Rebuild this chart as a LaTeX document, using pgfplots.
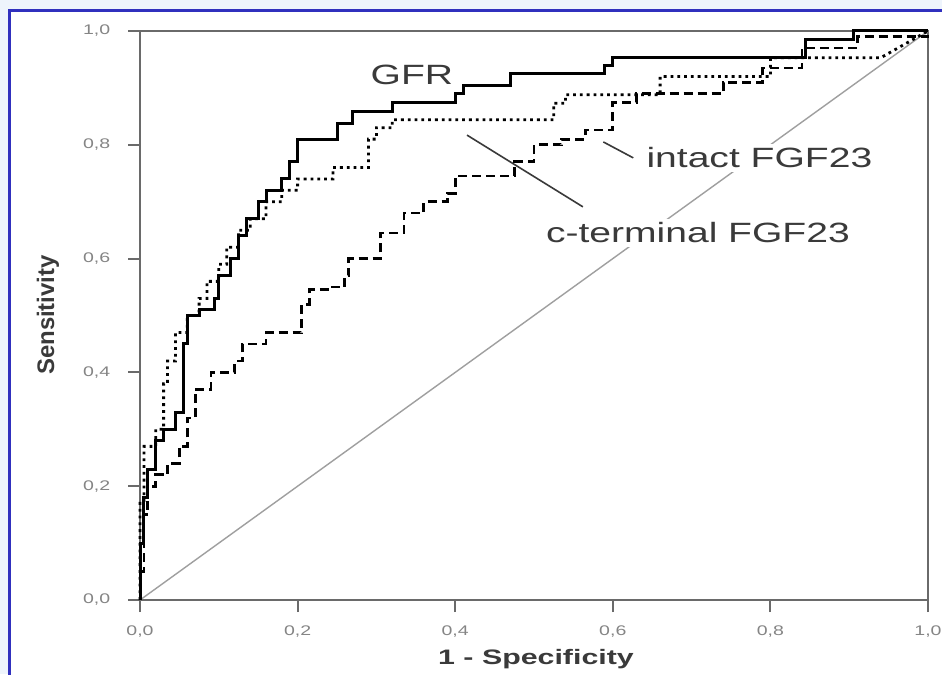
\documentclass[border=0pt]{standalone}
\usepackage{fontspec}
\setmainfont{Liberation Sans}
\usepackage{graphicx}
\usepackage{pgfplots}
\pgfplotsset{compat=1.18}
\definecolor{bgblue}{HTML}{EEF4FC}
\definecolor{frameblue}{HTML}{3030BE}
\definecolor{axgray}{HTML}{6A6A6A}
\definecolor{tickgray}{HTML}{858585}
\definecolor{txtgray}{HTML}{3A3A3A}
\begin{document}
\begin{tikzpicture}[x=1bp,y=1bp]
\useasboundingbox (0,0) rectangle (471,337);
\fill[bgblue] (0,0) rectangle (471,337);
\fill[white] (4.5,-5) rectangle (480,331.5);
\draw[frameblue, line width=1.5bp] (4.5,-5) -- (4.5,331.5) -- (480,331.5);
\begin{axis}[
  at={(70bp,37bp)}, anchor=south west, scale only axis,
  width=394bp, height=284.5bp,
  xmin=0, xmax=1, ymin=0, ymax=1,
  xtick={0,0.2,0.4,0.6,0.8,1}, ytick={0,0.2,0.4,0.6,0.8,1},
  xtick pos=bottom, ytick pos=left, tick align=outside,
  major tick length=6bp,
  axis line style={axgray, line width=1.2bp},
  every tick/.style={axgray, line width=1bp},
  /pgf/number format/use comma, /pgf/number format/fixed,
  /pgf/number format/fixed zerofill, /pgf/number format/precision=1,
  /pgf/number format/assume math mode=true,
  tick label style={font=\fontsize{7}{8}\selectfont, text=tickgray},
  xticklabel style={yshift=-3.5bp, xscale=1.4},
  yticklabel style={xshift=-4bp, xscale=1.4},
  clip=false,
]
% chance diagonal
\addplot[gray!75, line width=0.7bp] coordinates {(0,0) (1,1)};
% GFR (solid)
\addplot[black, line width=1.5bp] coordinates {
(0,0)(0,0.10)(0.005,0.10)(0.005,0.18)(0.01,0.18)(0.01,0.23)(0.02,0.23)(0.02,0.28)(0.03,0.28)(0.03,0.30)(0.045,0.30)(0.045,0.33)(0.055,0.33)(0.055,0.45)(0.06,0.45)(0.06,0.50)(0.075,0.50)(0.075,0.51)(0.095,0.51)(0.095,0.53)(0.10,0.53)(0.10,0.57)(0.115,0.57)(0.115,0.60)(0.125,0.60)(0.125,0.64)(0.135,0.64)(0.135,0.67)(0.15,0.67)(0.15,0.70)(0.16,0.70)(0.16,0.72)(0.18,0.72)(0.18,0.74)(0.19,0.74)(0.19,0.77)(0.20,0.77)(0.20,0.81)(0.25,0.81)(0.25,0.838)(0.27,0.838)(0.27,0.858)(0.32,0.858)(0.32,0.875)(0.40,0.875)(0.40,0.89)(0.41,0.89)(0.41,0.905)(0.47,0.905)(0.47,0.925)(0.59,0.925)(0.59,0.94)(0.60,0.94)(0.60,0.953)(0.845,0.953)(0.845,0.985)(0.905,0.985)(0.905,1)(1,1)
};
% c-terminal FGF23 (dotted)
\addplot[black, line width=1.4bp, dash pattern=on 1.4bp off 2bp] coordinates {
(0,0)(0,0.17)(0.005,0.17)(0.005,0.27)(0.02,0.27)(0.02,0.30)(0.03,0.30)(0.03,0.38)(0.035,0.38)(0.035,0.42)(0.045,0.42)(0.045,0.47)(0.06,0.47)(0.06,0.50)(0.075,0.50)(0.075,0.53)(0.085,0.53)(0.085,0.56)(0.10,0.56)(0.10,0.59)(0.11,0.59)(0.11,0.62)(0.125,0.62)(0.125,0.65)(0.14,0.65)(0.14,0.67)(0.16,0.67)(0.16,0.70)(0.18,0.70)(0.18,0.72)(0.20,0.72)(0.20,0.74)(0.245,0.74)(0.245,0.76)(0.29,0.76)(0.29,0.81)(0.30,0.81)(0.30,0.83)(0.32,0.83)(0.32,0.844)(0.525,0.844)(0.525,0.873)(0.54,0.873)(0.54,0.888)(0.66,0.888)(0.66,0.92)(0.80,0.92)(0.80,0.953)(0.94,0.953)(1,1)
};
% intact FGF23 (dashed)
\addplot[black, line width=1.4bp, dash pattern=on 4.5bp off 2.5bp] coordinates {
(0,0)(0,0.05)(0.005,0.05)(0.005,0.15)(0.01,0.15)(0.01,0.20)(0.02,0.20)(0.02,0.22)(0.035,0.22)(0.035,0.24)(0.05,0.24)(0.05,0.27)(0.06,0.27)(0.06,0.32)(0.07,0.32)(0.07,0.37)(0.09,0.37)(0.09,0.40)(0.12,0.40)(0.12,0.42)(0.13,0.42)(0.13,0.45)(0.16,0.45)(0.16,0.47)(0.205,0.47)(0.205,0.52)(0.215,0.52)(0.215,0.545)(0.24,0.545)(0.24,0.55)(0.26,0.55)(0.26,0.57)(0.265,0.57)(0.265,0.60)(0.305,0.60)(0.305,0.645)(0.335,0.645)(0.335,0.68)(0.36,0.68)(0.36,0.70)(0.39,0.70)(0.39,0.715)(0.40,0.715)(0.40,0.745)(0.475,0.745)(0.475,0.77)(0.50,0.77)(0.50,0.80)(0.535,0.80)(0.535,0.81)(0.565,0.81)(0.565,0.826)(0.60,0.826)(0.60,0.875)(0.63,0.875)(0.63,0.89)(0.74,0.89)(0.74,0.91)(0.79,0.91)(0.79,0.935)(0.84,0.935)(0.84,0.97)(0.91,0.97)(0.91,0.99)(1,0.99)(1,1)
};
% leader lines
\draw[txtgray, line width=0.8bp] (axis cs:0.588,0.805) -- (axis cs:0.626,0.777);
\draw[txtgray, line width=0.8bp] (axis cs:0.415,0.817) -- (axis cs:0.562,0.691);
% labels
\node[fill=white, inner sep=1.5bp, text=txtgray, font=\fontsize{14}{16}\selectfont] at (axis cs:0.345,0.923) {\scalebox{1.4}[1]{GFR}};
\node[fill=white, inner sep=2bp, text=txtgray, font=\fontsize{14}{16}\selectfont] at (axis cs:0.786,0.777) {\scalebox{1.4}[1]{intact FGF23}};
\node[fill=white, inner sep=2bp, text=txtgray, font=\fontsize{14}{16}\selectfont] at (axis cs:0.708,0.645) {\scalebox{1.4}[1]{c-terminal FGF23}};
\end{axis}
\node[rotate=90, text=txtgray, font=\bfseries\fontsize{12}{14}\selectfont] at (24,179.5) {Sensitivity};
\node[text=txtgray, font=\bfseries\fontsize{10.5}{12}\selectfont] at (268,7.5) {\scalebox{1.45}[1]{1 - Specificity}};
\end{tikzpicture}
\end{document}
